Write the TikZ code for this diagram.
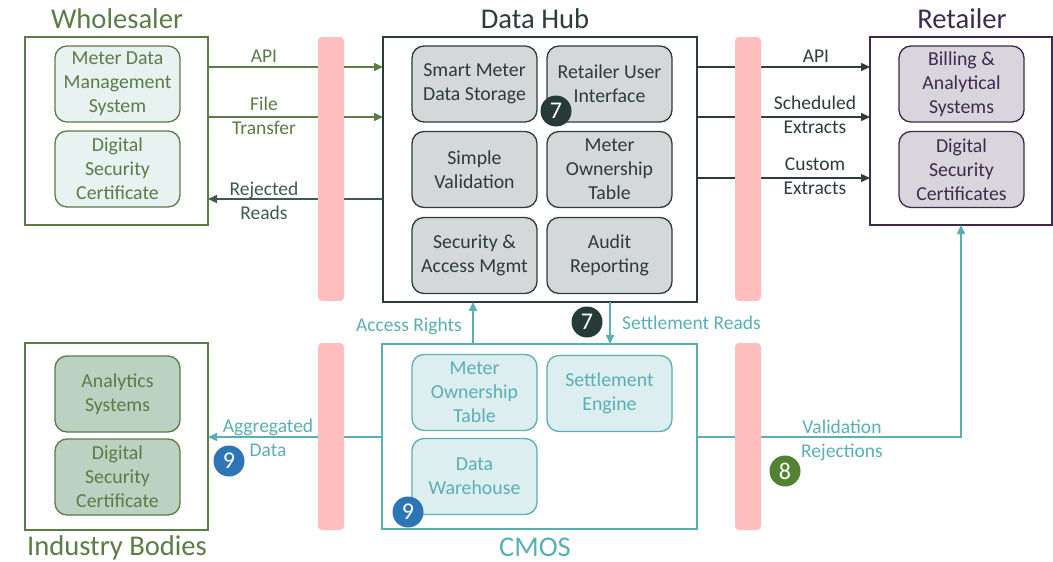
\documentclass[tikz,border=0pt]{standalone}
\usepackage{fontspec}
\setmainfont{Carlito}
\usetikzlibrary{arrows.meta}
\definecolor{wg}{HTML}{5B7B47}
\definecolor{wgfill}{HTML}{E8F2F1}
\definecolor{ibfill}{HTML}{BBD1C2}
\definecolor{hubc}{HTML}{2B3C3B}
\definecolor{hubfill}{HTML}{D5D8D8}
\definecolor{retc}{HTML}{3E2A4F}
\definecolor{retfill}{HTML}{D9D5DD}
\definecolor{cmosc}{HTML}{5AAFB5}
\definecolor{cmosfill}{HTML}{DDEEF0}
\definecolor{pinkbar}{HTML}{FFBFBF}
\definecolor{rejc}{HTML}{3D5A4E}
\definecolor{b7}{HTML}{263A38}
\definecolor{b9}{HTML}{2E75B6}
\definecolor{b8}{HTML}{548235}
\tikzset{
  outerbox/.style={draw, line width=1.5pt, inner sep=0pt, outer sep=0pt},
  inner/.style={draw, rounded corners=12pt, line width=1.3pt, minimum width=125pt, minimum height=76pt, align=center, inner sep=0pt, outer sep=0pt, font=\fontsize{19.8}{24}\selectfont},
  title/.style={anchor=base, font=\fontsize{28.6}{32}\selectfont},
  lbl/.style={align=center, font=\fontsize{19.5}{24}\selectfont, inner sep=0pt},
  bar/.style={fill=pinkbar, draw=none, rounded corners=4pt, minimum width=26pt, inner sep=0pt},
  conn/.style={line width=1.5pt, -{Triangle[length=9pt,width=8pt]}},
  badge/.style={circle, minimum size=31pt, inner sep=0pt, text=white, font=\fontsize{24}{24}\selectfont},
}
\begin{document}
\begin{tikzpicture}[x=1pt,y=-1pt]
\useasboundingbox (0,0) rectangle (1053,562);
% helper coordinates
\coordinate (yapi) at (0,67);
\coordinate (yfile) at (0,117);
\coordinate (yrej) at (0,199);
\coordinate (ycust) at (0,178);
\coordinate (yagg) at (0,437);
\coordinate (xacc) at (473,0);
\coordinate (xset) at (610,0);

% ---------- Wholesaler
\node[outerbox, draw=wg, minimum width=183pt, minimum height=188pt] (wh) at (116.5,131) {};
\node[title, text=wg] (whT) at (117,28) {Wholesaler};
\node[inner, draw=wg, fill=wgfill, text=wg] (mdm) at (117.5,84) {Meter Data\\Management\\System};
\node[inner, draw=wg, fill=wgfill, text=wg] (dscw) at (117.5,169) {Digital\\Security\\Certificate};

% ---------- Data Hub
\node[outerbox, draw=hubc, minimum width=314pt, minimum height=265pt] (hub) at (540,169.5) {};
\node[title, text=hubc] (hubT) at (535,28) {Data Hub};
\node[inner, draw=hubc, fill=hubfill, text=hubc] (smds) at (474.5,84) {Smart Meter\\Data Storage};
\node[inner, draw=hubc, fill=hubfill, text=hubc] (rui) at (609.5,84) {Retailer User\\Interface};
\node[inner, draw=hubc, fill=hubfill, text=hubc] (sv) at (474.5,169.5) {Simple\\Validation};
\node[inner, draw=hubc, fill=hubfill, text=hubc] (mot) at (609.5,169.5) {Meter\\Ownership\\Table};
\node[inner, draw=hubc, fill=hubfill, text=hubc] (sam) at (474.5,255.5) {Security \&\\Access Mgmt};
\node[inner, draw=hubc, fill=hubfill, text=hubc] (ar) at (609.5,255.5) {Audit\\Reporting};
\node[badge, fill=b7] (b7a) at (556,111) {7};

% ---------- Retailer
\node[outerbox, draw=retc, minimum width=182pt, minimum height=188pt] (ret) at (961,131) {};
\node[title, text=retc] (retT) at (962,28) {Retailer};
\node[inner, draw=retc, fill=retfill, text=retc] (bas) at (961.5,84) {Billing \&\\Analytical\\Systems};
\node[inner, draw=retc, fill=retfill, text=retc] (dscr) at (961.5,169.5) {Digital\\Security\\Certificates};

% ---------- Industry Bodies
\node[outerbox, draw=wg, minimum width=183pt, minimum height=187pt] (ib) at (116.5,436.5) {};
\node[title, text=wg] (ibT) at (117,555) {Industry Bodies};
\node[inner, draw=wg, fill=ibfill, text=wg] (as) at (117.5,394) {Analytics\\Systems};
\node[inner, draw=wg, fill=ibfill, text=wg] (dsci) at (117.5,477) {Digital\\Security\\Certificate};

% ---------- CMOS
\node[outerbox, draw=cmosc, minimum width=315pt, minimum height=185pt] (cmos) at (539.5,436.5) {};
\node[title, text=cmosc] (cmosT) at (535,556) {CMOS};
\node[inner, draw=cmosc, fill=cmosfill, text=cmosc] (cmot) at (474.5,392.5) {Meter\\Ownership\\Table};
\node[inner, draw=cmosc, fill=cmosfill, text=cmosc] (se) at (609.5,393.5) {Settlement\\Engine};
\node[inner, draw=cmosc, fill=cmosfill, text=cmosc] (dw) at (474.5,476.5) {Data\\Warehouse};
\node[badge, fill=b9] (b9a) at (408,512) {9};

% ---------- connectors
\draw[conn, wg] (wh.east |- yapi) -- (hub.west |- yapi);
\draw[conn, wg] (wh.east |- yfile) -- (hub.west |- yfile);
\draw[conn, rejc] (hub.west |- yrej) -- (wh.east |- yrej);
\draw[conn, hubc] (hub.east |- yapi) -- (ret.west |- yapi);
\draw[conn, hubc] (hub.east |- yfile) -- (ret.west |- yfile);
\draw[conn, hubc] (hub.east |- ycust) -- (ret.west |- ycust);
\draw[conn, cmosc] (cmos.north -| xacc) -- (hub.south -| xacc);
\draw[conn, cmosc] (hub.south -| xset) -- (cmos.north -| xset);
\draw[conn, cmosc] (cmos.west |- yagg) -- (ib.east |- yagg);
\draw[conn, cmosc] (cmos.east |- yagg) -| (ret.south);

% ---------- pink bars
\node[bar, minimum height=264pt] (bar1) at (331,169) {};
\node[bar, minimum height=187pt] (bar2) at (331,436.5) {};
\node[bar, minimum height=264pt] (bar3) at (748,169) {};
\node[bar, minimum height=187pt] (bar4) at (748,436.5) {};

% ---------- labels
\node[lbl, text=wg] (lapi) at (264,56) {API};
\node[lbl, text=wg] (lfile) at (264,116) {File\\Transfer};
\node[lbl, text=rejc] (lrej) at (264,201) {Rejected\\Reads};
\node[lbl, text=hubc] (rapi) at (816,56) {API};
\node[lbl, text=hubc] (rsch) at (815,115) {Scheduled\\Extracts};
\node[lbl, text=hubc] (rcus) at (815,176) {Custom\\Extracts};
\node[lbl, text=cmosc, anchor=east] (lacc) at (462,326) {Access Rights};
\node[lbl, text=cmosc, anchor=west] (lset) at (622,323) {Settlement Reads};
\node[badge, fill=b7] (b7b) at (587,322) {7};
\node[lbl, text=cmosc] (lagg) at (268,438) {Aggregated\\Data};
\node[badge, fill=b9] (b9b) at (229,461) {9};
\node[lbl, text=cmosc] (lval) at (842,440) {Validation\\Rejections};
\node[badge, fill=b8] (b8) at (785,471) {8};
\end{tikzpicture}
\end{document}
